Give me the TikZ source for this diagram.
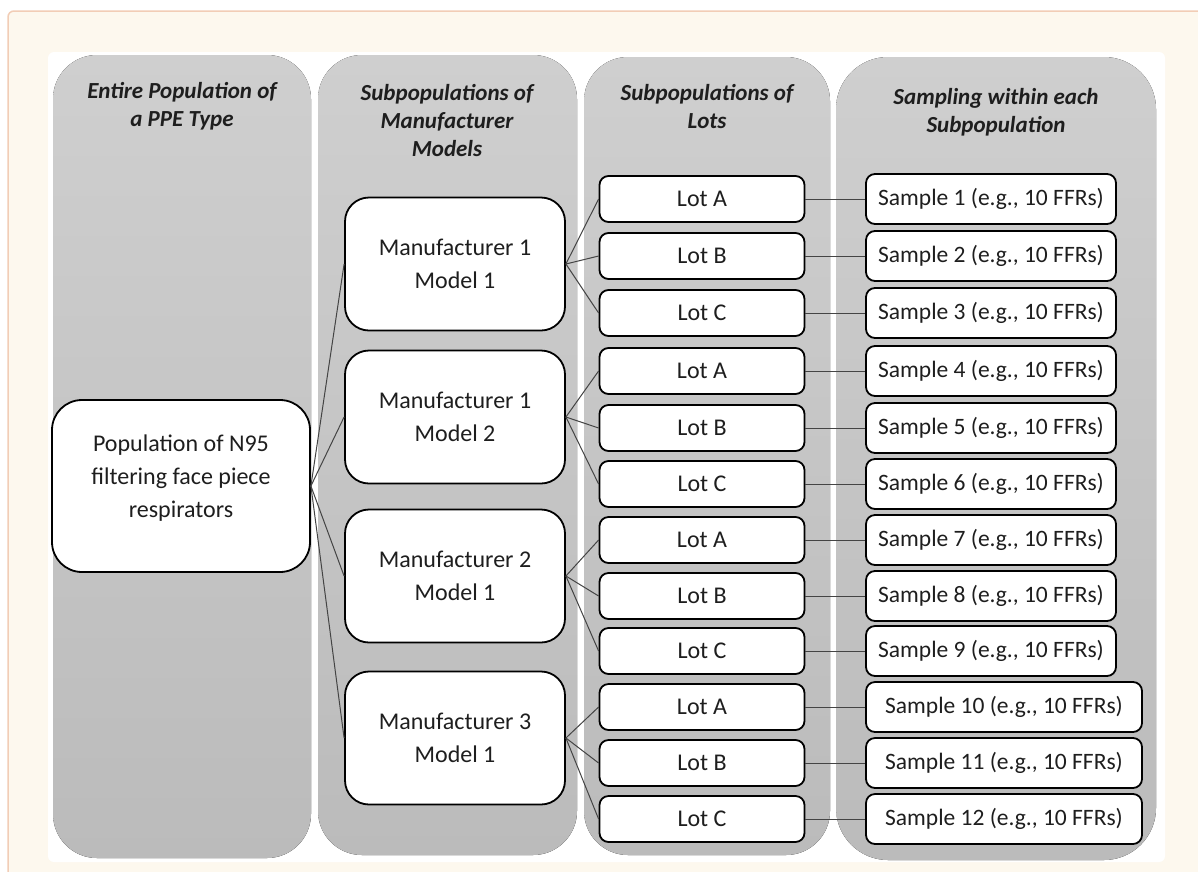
\documentclass[tikz,border=0pt]{standalone}
\usepackage{fontspec}
\setmainfont{Carlito}
\usepackage{xcolor}
\definecolor{creamBg}{HTML}{FDF8EE}
\definecolor{peachLine}{HTML}{F2CDB6}
\definecolor{colTop}{HTML}{CFCFCF}
\definecolor{colBot}{HTML}{BBBBBB}
\definecolor{txtDark}{HTML}{1E1E1E}
\definecolor{linkGray}{HTML}{444444}

\begin{document}
\begin{tikzpicture}[x=1pt, y=-1pt,
  column/.style={top color=colTop, bottom color=colBot, rounded corners=44pt},
  heading/.style={font=\fontsize{23}{28}\selectfont\bfseries\itshape, align=center, text=txtDark},
  box/.style={draw=black, line width=1.8pt, fill=white, inner sep=0pt, align=center,
    font=\fontsize{24}{33}\selectfont, text=txtDark},
  popbox/.style={box, rounded corners=30pt, minimum width=258pt, minimum height=172pt},
  mfrbox/.style={box, rounded corners=24pt, minimum width=220pt, minimum height=133pt},
  lotbox/.style={box, rounded corners=9pt, minimum width=205pt, minimum height=46pt},
  smpbox/.style={box, rounded corners=9pt, minimum width=250pt, minimum height=50pt,
    font=\fontsize{23.5}{33}\selectfont},
  link/.style={draw=linkGray, line width=1pt}]
  \useasboundingbox (0,0) rectangle (1198,871);
  \fill[white] (0,0) rectangle (1198,871);
  % page background
  \draw[fill=creamBg, draw=peachLine, line width=1.5pt, rounded corners=6pt] (8,11) rectangle (1230,900);
  \fill[white, rounded corners=6pt] (48,52) rectangle (1165,862);
  % columns
  \fill[column] (53,55) rectangle (311,858);
  \fill[column] (318,55) rectangle (577,855);
  \fill[column] (584,57) rectangle (830,855);
  \fill[column, rounded corners=52pt] (836,57) rectangle (1156,860);
  % headings
  \node[heading] (h1) at (182,106) {Entire Population of\\a PPE Type};
  \node[heading] (h2) at (447,121) {Subpopulations of\\Manufacturer\\Models};
  \node[heading] (h3) at (707,107) {Subpopulations of\\Lots};
  \node[heading] (h4) at (996,112) {Sampling within each\\Subpopulation};
  % boxes
  \node[popbox] (pop) at (181,486) {Population of N95\\filtering face piece\\respirators\\[-14pt]};
  \foreach \i/\mk/\md/\y in {1/1/1/264, 2/1/2/417, 3/2/1/576, 4/3/1/738}
    \node[mfrbox] (m\i) at (455,\y) {Manufacturer \mk\\Model \md};
  \foreach \y/\l [count=\i] in {199/A,256/B,313/C,371/A,428/B,484/C,540/A,596/B,651/C,707/A,763/B,819/C}
    \node[lotbox] (lot\i) at (702,\y) {Lot \l};
  \foreach \y [count=\i] in {199,256,313,371,428,484,540,596,651}
    \node[smpbox] (s\i) at (991,\y) {Sample \i{} (e.g., 10 FFRs)};
  \foreach \y [count=\j from 10] in {707,763,819}
    \node[smpbox, minimum width=276pt] (s\j) at (1004,\y) {Sample \j{} (e.g., 10 FFRs)};
  % connectors
  \foreach \i in {1,...,4}
    \draw[link] (pop.east) -- (m\i.west);
  \foreach \i in {1,...,12}{
    \pgfmathtruncatemacro\g{(\i-1)/3+1}
    \draw[link] (m\g.east) -- (lot\i.west);
    \draw[link] (lot\i.east) -- (lot\i.east -| s\i.west);
  }
\end{tikzpicture}
\end{document}
